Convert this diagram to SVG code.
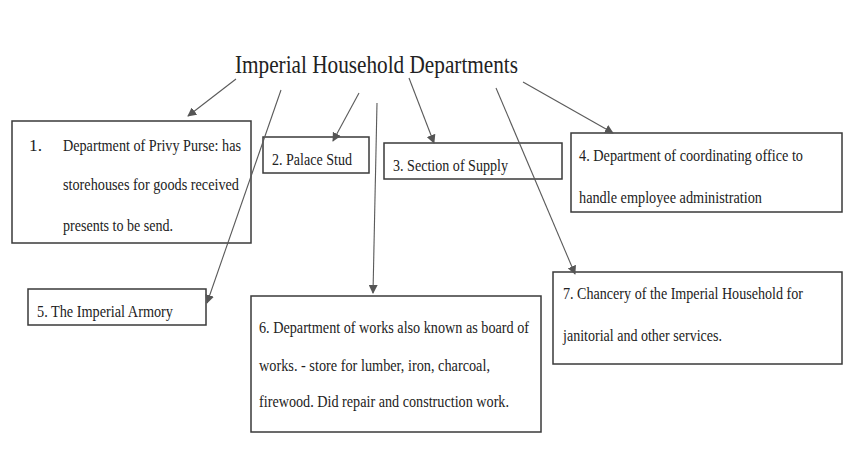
<svg xmlns="http://www.w3.org/2000/svg" width="843" height="474" viewBox="0 0 843 474">
<style>
.box{fill:none;stroke:#3a3a3a;stroke-width:1.5}
.t{font-family:"Liberation Serif","Times New Roman",serif;font-size:16.5px;fill:#222}
.title{font-family:"Liberation Serif","Times New Roman",serif;font-size:25px;fill:#222}
.c{stroke:#5a5a5a;stroke-width:1.1;fill:none;marker-end:url(#ah)}
</style>
<defs>
<marker id="ah" viewBox="0 0 10 10" refX="9" refY="5" markerWidth="9" markerHeight="9" markerUnits="userSpaceOnUse" orient="auto">
<path d="M0,0 L10,5 L0,10 z" fill="#555"/>
</marker>
</defs>
<rect width="843" height="474" fill="#fff"/>
<g id="title">
<text class="title" x="235" y="73" textLength="283" lengthAdjust="spacingAndGlyphs">Imperial Household Departments</text>
</g>
<g id="node1">
<rect class="box" x="12" y="121" width="239" height="122"/>
<text class="t" x="29" y="151" textLength="13" lengthAdjust="spacingAndGlyphs">1.</text>
<text class="t" x="63" y="151" textLength="178" lengthAdjust="spacingAndGlyphs">Department of Privy Purse: has</text>
<text class="t" x="63" y="190" textLength="176" lengthAdjust="spacingAndGlyphs">storehouses for goods received</text>
<text class="t" x="63" y="231" textLength="110" lengthAdjust="spacingAndGlyphs">presents to be send.</text>
</g>
<g id="node2">
<rect class="box" x="263" y="137" width="106" height="36"/>
<text class="t" x="272" y="165" textLength="80" lengthAdjust="spacingAndGlyphs">2. Palace Stud</text>
</g>
<g id="node3">
<rect class="box" x="384" y="143" width="178" height="36"/>
<text class="t" x="393" y="171" textLength="115" lengthAdjust="spacingAndGlyphs">3. Section of Supply</text>
</g>
<g id="node4">
<rect class="box" x="571" y="133" width="271" height="79"/>
<text class="t" x="579" y="161" textLength="224" lengthAdjust="spacingAndGlyphs">4. Department of coordinating office to</text>
<text class="t" x="579" y="203" textLength="183" lengthAdjust="spacingAndGlyphs">handle employee administration</text>
</g>
<g id="node5">
<rect class="box" x="28" y="289" width="178" height="36"/>
<text class="t" x="37" y="317" textLength="136" lengthAdjust="spacingAndGlyphs">5. The Imperial Armory</text>
</g>
<g id="node6">
<rect class="box" x="251" y="296" width="290" height="136"/>
<text class="t" x="259" y="333" textLength="270" lengthAdjust="spacingAndGlyphs">6. Department of works also known as board of</text>
<text class="t" x="259" y="371" textLength="231" lengthAdjust="spacingAndGlyphs">works. - store for lumber, iron, charcoal,</text>
<text class="t" x="259" y="407" textLength="250" lengthAdjust="spacingAndGlyphs">firewood. Did repair and construction work.</text>
</g>
<g id="node7">
<rect class="box" x="553" y="272" width="289" height="92"/>
<text class="t" x="563" y="299" textLength="240" lengthAdjust="spacingAndGlyphs">7. Chancery of the Imperial Household for</text>
<text class="t" x="563" y="341" textLength="159" lengthAdjust="spacingAndGlyphs">janitorial and other services.</text>
</g>
<g id="connectors">
<line class="c" x1="236" y1="79" x2="188" y2="116"/>
<line class="c" x1="281" y1="90" x2="207" y2="303"/>
<line class="c" x1="359" y1="93" x2="333" y2="141"/>
<line class="c" x1="377" y1="103" x2="373" y2="293"/>
<line class="c" x1="409" y1="78" x2="434" y2="143"/>
<line class="c" x1="496" y1="88" x2="575" y2="274"/>
<line class="c" x1="523" y1="82" x2="613" y2="133"/>
</g>
</svg>
